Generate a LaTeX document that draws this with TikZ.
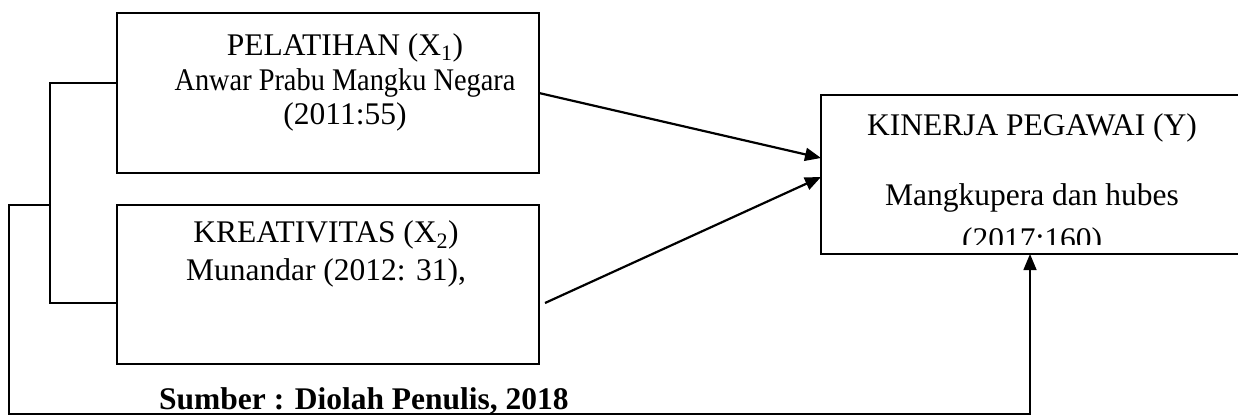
\documentclass[tikz,border=0pt]{standalone}
\usepackage{fontspec}
\setmainfont{Liberation Serif}
\usetikzlibrary{arrows.meta}
\begin{document}
\begin{tikzpicture}[x=1pt,y=-1pt,
  box/.style={draw, line width=1.3pt, minimum width=422pt, inner sep=0pt, outer sep=0pt},
  txt/.style={anchor=base, inner sep=0pt, font=\fontsize{31.5}{36}\selectfont},
  bold/.style={txt, font=\fontsize{31.5}{36}\selectfont\bfseries},
  conn/.style={line width=1.5pt},
  arr/.style={conn, -{Triangle[length=16pt,width=13pt]}},
  diag/.style={line width=2.2pt, -{Triangle[length=16pt,width=13pt]}},
]
\useasboundingbox (0,0) rectangle (1238,416);
% boxes
\node[box, minimum height=160pt] (b1) at (328,93) {};
\node[box, minimum height=159pt] (b2) at (328,284.5) {};
\node[box, minimum height=159pt] (by) at (1032,174.5) {};
% texts box 1
\node[txt] (t11) at (345,55) {PELATIHAN (X\textsubscript{1})};
\node[txt] (t12) at (345,90) {\scalebox{0.9}[1]{Anwar Prabu Mangku Negara}};
\node[txt] (t13) at (345,124) {(2011:55)};
% texts box 2
\node[txt] (t21) at (326,242) {KREATIVITAS (X\textsubscript{2})};
\node[txt] (t22) at (326,280) {Munandar (2012: 31),};
% texts box Y
\node[txt] (ty1) at (1032,135) {KINERJA PEGAWAI (Y)};
\node[txt] (ty2) at (1032,205) {Mangkupera dan hubes};
\begin{scope}
\clip (821,95) rectangle (1243,244);
\node[txt] (ty3) at (1032,249) {(2017:160)};
\end{scope}
% source
\node[bold, anchor=base west] (src) at (159,409) {Sumber : Diolah Penulis, 2018};
% bracket
\coordinate (j1) at (50,83);
\coordinate (j2) at (50,303);
\draw[conn] (b1.west |- j1) -- (j1) -- (j2) -- (b2.west |- j2);
% outer feedback line
\coordinate (o1) at (50,205);
\coordinate (o2) at (9,205);
\coordinate (o3) at (9,414);
\coordinate (o4) at (1030,414);
\draw[arr] (o1) -- (o2) -- (o3) -- (o4) -- (o4 |- by.south);
% arrows
\coordinate (a1e) at (821,158);
\coordinate (a2s) at (545,303);
\coordinate (a2e) at (821,177);
\draw[diag] (b1.east) -- (by.west |- a1e);
\draw[diag] (a2s) -- (by.west |- a2e);
\end{tikzpicture}
\end{document}
